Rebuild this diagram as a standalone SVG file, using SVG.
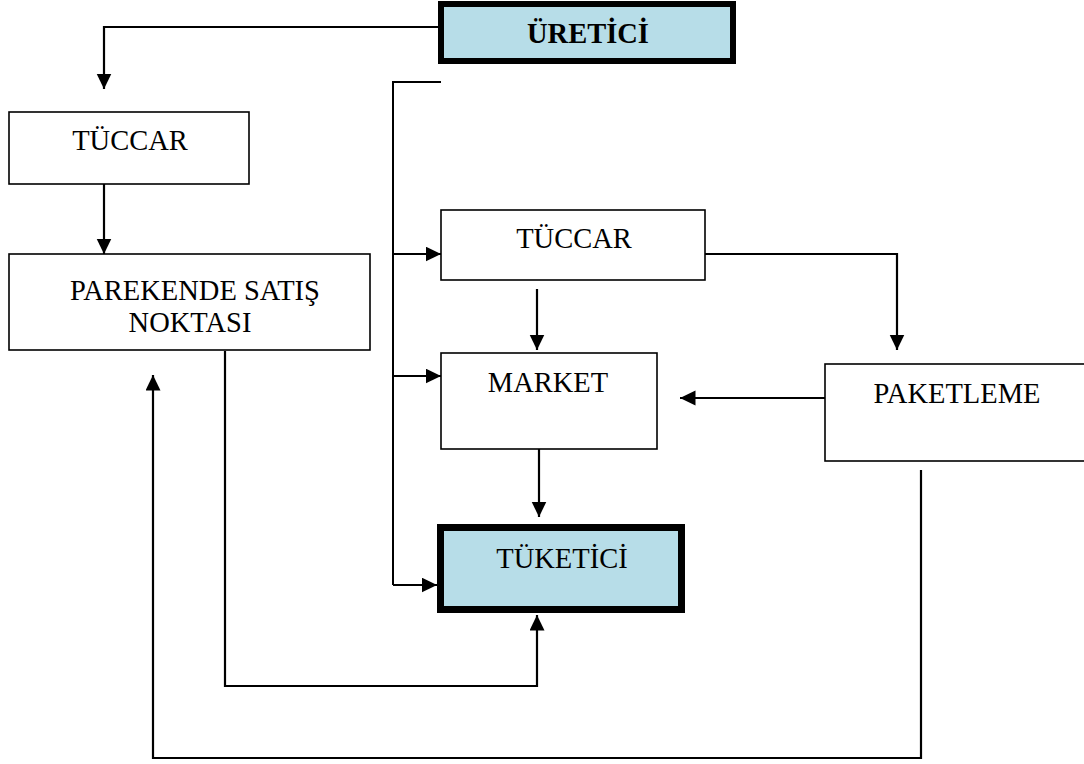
<svg xmlns="http://www.w3.org/2000/svg" width="1084" height="764" viewBox="0 0 1084 764">
<style>
.box{fill:#ffffff;stroke:#000;stroke-width:1.6}
.key{fill:#b7dde8;stroke:#000}
.lbl{font-family:"Liberation Serif","Times New Roman",serif;font-size:28.5px;fill:#000;text-anchor:middle}
.bold{font-weight:bold}
.ln{fill:none;stroke:#000;stroke-width:2}
.ar{fill:none;stroke:#000;stroke-width:2.2;marker-end:url(#ah)}
</style>
<defs>
<marker id="ah" markerUnits="userSpaceOnUse" markerWidth="17" markerHeight="16" refX="15.5" refY="7.5" orient="auto">
<path d="M0,0 L15.5,7.5 L0,15 Z" fill="#000"/>
</marker>
</defs>
<rect width="1084" height="764" fill="#ffffff"/>
<g id="connectors">
<path class="ar" d="M438,27 H104 V89"/>
<path class="ar" d="M104,184 V254"/>
<path class="ln" d="M441,82 H393 V585"/>
<path class="ar" d="M393,585 H437"/>
<path class="ar" d="M393,254 H441"/>
<path class="ar" d="M393,376 H441"/>
<path class="ar" d="M705,254 H897 V350"/>
<path class="ar" d="M537,289 V350"/>
<path class="ar" d="M825,398 H680"/>
<path class="ar" d="M539,449 V517"/>
<path class="ar" d="M225,351 V686 H537 V615"/>
<path class="ar" d="M921,470 V758 H153 V375"/>
</g>
<g id="uretici">
<rect class="key" x="441" y="4" width="292" height="57" stroke-width="6"/>
<text class="lbl bold" x="588" y="43">ÜRETİCİ</text>
</g>
<g id="tuccar1">
<rect class="box" x="9" y="112" width="240" height="72"/>
<text class="lbl" x="130" y="150">TÜCCAR</text>
</g>
<g id="parekende">
<rect class="box" x="9" y="254" width="361" height="96"/>
<text class="lbl" x="195" y="300">PAREKENDE SATIŞ</text>
<text class="lbl" x="190" y="332">NOKTASI</text>
</g>
<g id="tuccar2">
<rect class="box" x="441" y="210" width="264" height="70"/>
<text class="lbl" x="574" y="248">TÜCCAR</text>
</g>
<g id="market">
<rect class="box" x="441" y="353" width="216" height="96"/>
<text class="lbl" x="548" y="392">MARKET</text>
</g>
<g id="paketleme">
<rect class="box" x="825" y="364" width="270" height="97"/>
<text class="lbl" x="957" y="403">PAKETLEME</text>
</g>
<g id="tuketici">
<rect class="key" x="440.5" y="527.5" width="241" height="82" stroke-width="7"/>
<text class="lbl" x="562" y="568">TÜKETİCİ</text>
</g>
</svg>
